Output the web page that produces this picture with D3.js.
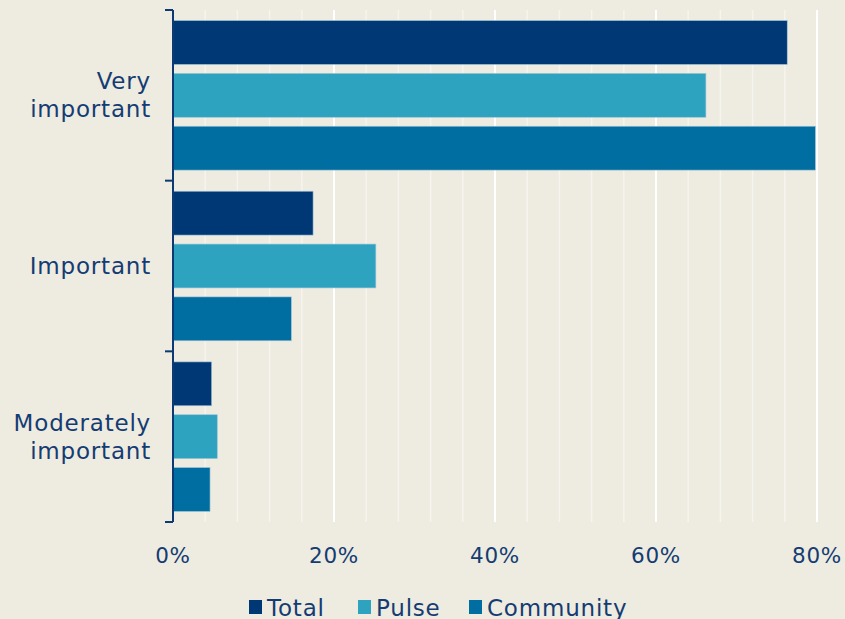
<!DOCTYPE html>
<html lang="en">
<head>
<meta charset="UTF-8">
<script src="https://cdn.jsdelivr.net/npm/d3@7"></script>
<title>Importance</title>
<style>
    body { margin: 0; background: #eeebe0; }
    svg { display: block; }
    text { font-family: "DejaVu Sans", sans-serif; fill: #143c73; letter-spacing: 0.8px; }
</style>
</head>
<body>
<script>
    // data
    const categories = ["Very important", "Important", "Moderately important"];
    const catLines = [["Very", "important"], ["Important"], ["Moderately", "important"]];
    const seriesNames = ["Total", "Pulse", "Community"];
    const seriesColors = ["#003876", "#2ea3c0", "#006ea0"];
    const total = [76.3, 17.4, 4.8];
    const pulse = [66.2, 25.2, 5.5];
    const community = [79.8, 14.7, 4.6];
    const tickValues = [0, 20, 40, 60, 80];

    const W = 845, H = 619;
    const m = {left: 173, right: 28, top: 10, bottom: 97};

    const svg = d3.select("body").append("svg")
        .attr("width", W).attr("height", H);

    const x = d3.scaleLinear().domain([0, 80]).range([m.left, W - m.right]);
    const y = d3.scaleBand().domain(categories).range([m.top, H - m.bottom]);
    const inner = d3.scaleBand().domain(seriesNames)
        .range([0, y.bandwidth()]).paddingInner(0.17).paddingOuter(0.2);

    // minor grid every 4%, major every 20%
    const grid = svg.append("g");
    grid.selectAll("line")
        .data(d3.range(4, 81, 4))
        .enter().append("line")
        .attr("x1", d => x(d)).attr("x2", d => x(d))
        .attr("y1", m.top).attr("y2", H - m.bottom)
        .attr("stroke", d => d % 20 == 0 ? "#ffffff" : "#f6f4ee")
        .attr("stroke-width", d => d % 20 == 0 ? 2 : 1.5);

    const rows = categories.map((c, i) => ({cat: c, vals: [total[i], pulse[i], community[i]]}));
    const grp = svg.selectAll(".cat").data(rows).enter().append("g")
        .attr("transform", d => "translate(0," + y(d.cat) + ")");
    grp.selectAll("rect")
        .data(d => d.vals.map((v, j) => ({name: seriesNames[j], v: v, c: seriesColors[j]})))
        .enter().append("rect")
        .attr("x", x(0))
        .attr("y", d => inner(d.name))
        .attr("width", d => x(d.v) - x(0))
        .attr("height", inner.bandwidth())
        .attr("fill", d => d.c)
        .attr("stroke", "#9fc3d6").attr("stroke-width", 0.6);

    // y axis line with ticks at band edges
    const yAxis = svg.append("g");
    yAxis.append("line")
        .attr("x1", x(0)).attr("x2", x(0))
        .attr("y1", m.top).attr("y2", H - m.bottom)
        .attr("stroke", "#0d3a73").attr("stroke-width", 2);
    const edges = categories.map(c => y(c)).concat([H - m.bottom]);
    yAxis.selectAll(".tk").data(edges).enter().append("line")
        .attr("x1", x(0) - 8).attr("x2", x(0))
        .attr("y1", d => d).attr("y2", d => d)
        .attr("stroke", "#0d3a73").attr("stroke-width", 2);

    // category labels
    categories.forEach((c, i) => {
        const lines = catLines[i];
        const cy = y(c) + y.bandwidth() / 2;
        const t = svg.append("text")
            .attr("text-anchor", "end")
            .attr("font-size", 23)
            .attr("y", cy - (lines.length - 1) * 14);
        lines.forEach((l, k) => {
            t.append("tspan").attr("x", 151).attr("dy", k == 0 ? "0.35em" : 28).text(l);
        });
    });

    // x tick labels
    svg.selectAll(".xl").data(tickValues).enter().append("text")
        .attr("x", d => x(d)).attr("y", 555)
        .attr("dy", "0.35em")
        .attr("text-anchor", "middle")
        .attr("font-size", 21.5)
        .text(d => d + "%");

    // legend
    const legX = [249, 358, 469];
    const leg = svg.selectAll(".leg").data(seriesNames).enter().append("g")
        .attr("transform", (d, i) => "translate(" + legX[i] + ",600)");
    leg.append("rect").attr("width", 13).attr("height", 14)
        .attr("fill", (d, i) => seriesColors[i]);
    leg.append("text").attr("x", 18).attr("y", 8).attr("dy", "0.35em")
        .attr("font-size", 23)
        .text(d => d);
</script>
</body>
</html>
